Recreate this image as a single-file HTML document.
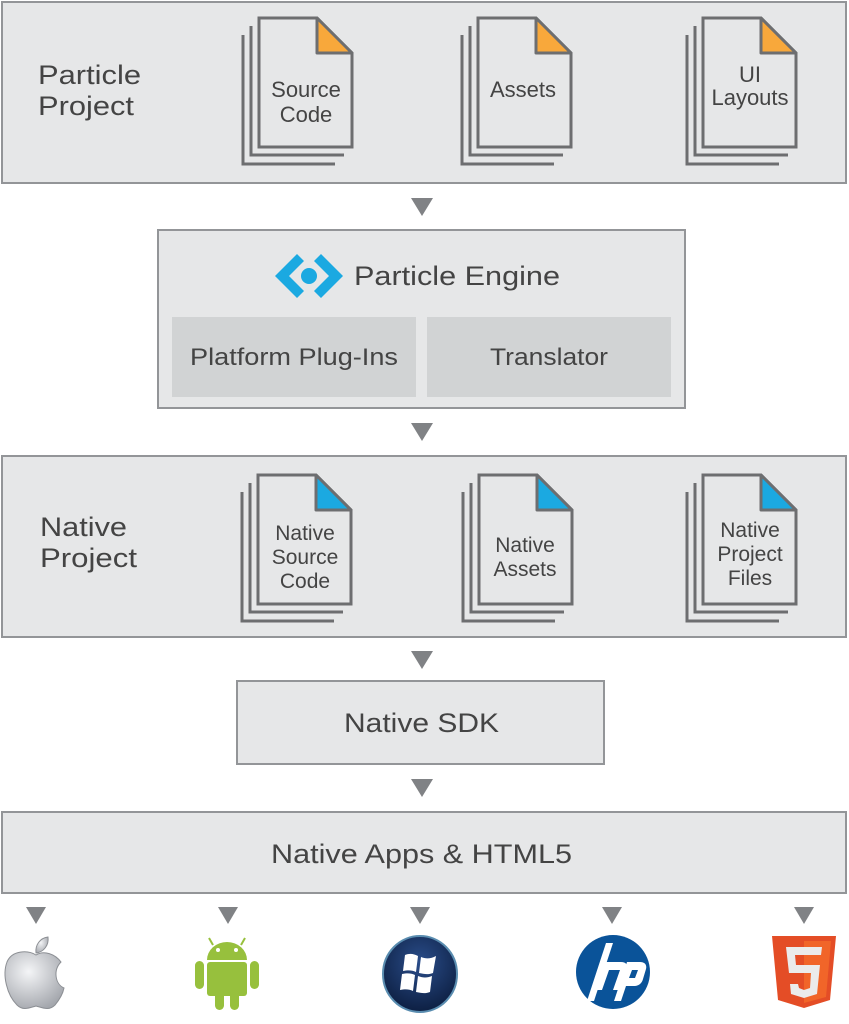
<!DOCTYPE html>
<html><head><meta charset="utf-8"><style>
html,body{margin:0;padding:0;background:#fff;}
svg{display:block;}
text{font-family:"Liberation Sans",sans-serif;fill:#444;}
</style></head><body>
<svg width="849" height="1024" viewBox="0 0 849 1024" xmlns="http://www.w3.org/2000/svg">
<defs>
<g id="docO">
 <polyline points="-16,17 -16,146 76,146" fill="none" stroke="#6d6e70" stroke-width="3"/>
 <polyline points="-8,8 -8,137 85,137" fill="none" stroke="#6d6e70" stroke-width="3"/>
 <path d="M0,0 H58 L93,35 V129 H0 Z" fill="#e6e7e8" stroke="#6d6e70" stroke-width="3"/>
 <path d="M58,0 L93,35 H58 Z" fill="#f8a83b" stroke="#6d6e70" stroke-width="3" stroke-linejoin="round"/>
</g>
<g id="docB">
 <polyline points="-16,17 -16,146 76,146" fill="none" stroke="#6d6e70" stroke-width="3"/>
 <polyline points="-8,8 -8,137 85,137" fill="none" stroke="#6d6e70" stroke-width="3"/>
 <path d="M0,0 H58 L93,35 V129 H0 Z" fill="#e6e7e8" stroke="#6d6e70" stroke-width="3"/>
 <path d="M58,0 L93,35 H58 Z" fill="#1ba9e1" stroke="#6d6e70" stroke-width="3" stroke-linejoin="round"/>
</g>
<polygon id="arr" points="-11,0 11,0 0,18" fill="#808285"/>
<polygon id="sarr" points="-10,0 10,0 0,17" fill="#808285"/>
<radialGradient id="ap" cx="0.4" cy="0.35" r="0.7"><stop offset="0" stop-color="#f4f5f7"/><stop offset="1" stop-color="#a4a7ad"/></radialGradient>
<radialGradient id="wn" cx="0.5" cy="0.35" r="0.7"><stop offset="0" stop-color="#2a4d8a"/><stop offset="1" stop-color="#0b1c3d"/></radialGradient>
</defs>

<!-- Particle Project -->
<rect x="2" y="2" width="844" height="181" fill="#e6e7e8" stroke="#939598" stroke-width="2"/>
<text x="38" y="84" font-size="27" textLength="103" lengthAdjust="spacingAndGlyphs">Particle</text>
<text x="38" y="115" font-size="27" textLength="96" lengthAdjust="spacingAndGlyphs">Project</text>
<use href="#docO" x="259" y="18"/>
<text x="306" y="97" font-size="22" text-anchor="middle">Source</text>
<text x="306" y="122" font-size="22" text-anchor="middle">Code</text>
<use href="#docO" x="478" y="18"/>
<text x="523" y="97" font-size="22" text-anchor="middle">Assets</text>
<use href="#docO" x="703" y="18"/>
<text x="750" y="82" font-size="22" text-anchor="middle">UI</text>
<text x="750" y="105" font-size="22" text-anchor="middle">Layouts</text>

<use href="#arr" x="422" y="198"/>

<!-- Engine -->
<rect x="158" y="230" width="527" height="178" fill="#e6e7e8" stroke="#939598" stroke-width="2"/>
<g fill="#1ba9e1">
 <polygon points="297,254 304,261 289,276 304,291 297,298 275,276"/>
 <polygon points="321,254 314,261 329,276 314,291 321,298 343,276"/>
 <circle cx="309" cy="276" r="8"/>
</g>
<text x="354" y="285" font-size="27" textLength="206" lengthAdjust="spacingAndGlyphs">Particle Engine</text>
<rect x="172" y="317" width="244" height="80" fill="#d1d3d4"/>
<rect x="427" y="317" width="244" height="80" fill="#d1d3d4"/>
<text x="190" y="365" font-size="24" textLength="208" lengthAdjust="spacingAndGlyphs">Platform Plug-Ins</text>
<text x="490" y="365" font-size="24" textLength="118" lengthAdjust="spacingAndGlyphs">Translator</text>

<use href="#arr" x="422" y="423"/>

<!-- Native Project -->
<rect x="2" y="456" width="844" height="181" fill="#e6e7e8" stroke="#939598" stroke-width="2"/>
<text x="40" y="536" font-size="27" textLength="87" lengthAdjust="spacingAndGlyphs">Native</text>
<text x="40" y="567" font-size="27" textLength="97" lengthAdjust="spacingAndGlyphs">Project</text>
<use href="#docB" x="258" y="475"/>
<text x="305" y="540" font-size="21" text-anchor="middle">Native</text>
<text x="305" y="564" font-size="21" text-anchor="middle">Source</text>
<text x="305" y="588" font-size="21" text-anchor="middle">Code</text>
<use href="#docB" x="479" y="475"/>
<text x="525" y="552" font-size="21" text-anchor="middle">Native</text>
<text x="525" y="576" font-size="21" text-anchor="middle">Assets</text>
<use href="#docB" x="703" y="475"/>
<text x="750" y="537" font-size="21" text-anchor="middle">Native</text>
<text x="750" y="561" font-size="21" text-anchor="middle">Project</text>
<text x="750" y="585" font-size="21" text-anchor="middle">Files</text>

<use href="#arr" x="422" y="651"/>

<rect x="237" y="681" width="367" height="83" fill="#e6e7e8" stroke="#939598" stroke-width="2"/>
<text x="344" y="732" font-size="27" textLength="155" lengthAdjust="spacingAndGlyphs">Native SDK</text>

<use href="#arr" x="422" y="779"/>

<rect x="2" y="812" width="844" height="81" fill="#e6e7e8" stroke="#939598" stroke-width="2"/>
<text x="271" y="863" font-size="27" textLength="301" lengthAdjust="spacingAndGlyphs">Native Apps &amp; HTML5</text>

<use href="#sarr" x="36" y="907"/>
<use href="#sarr" x="228" y="907"/>
<use href="#sarr" x="420" y="907"/>
<use href="#sarr" x="612" y="907"/>
<use href="#sarr" x="804" y="907"/>

<!-- Apple -->
<path d="M36,955 C28,950 12,950 7,962 C2,975 7,995 17,1005 C23,1011 29,1008 36,1006 C43,1008 49,1011 55,1005 C60,999 63,993 64,988 C55,984 53,970 61,962 C55,954 44,950 36,955 Z" fill="url(#ap)" stroke="#8c8f94" stroke-width="1"/>
<path d="M36,953 C35,945 40,938 48,937 C49,945 44,952 36,953 Z" fill="url(#ap)" stroke="#8c8f94" stroke-width="1"/>

<!-- Android -->
<g fill="#97c03d">
 <path d="M207,960 A20,18 0 0 1 247,960 Z"/>
 <line x1="213" y1="945" x2="209" y2="938" stroke="#97c03d" stroke-width="2"/>
 <line x1="241" y1="945" x2="245" y2="938" stroke="#97c03d" stroke-width="2"/>
 <rect x="207" y="962" width="40" height="34" rx="3"/>
 <rect x="195" y="961" width="9" height="28" rx="4.5"/>
 <rect x="250" y="961" width="9" height="28" rx="4.5"/>
 <rect x="215" y="990" width="9" height="20" rx="4.5"/>
 <rect x="230" y="990" width="9" height="20" rx="4.5"/>
</g>
<circle cx="218" cy="950" r="2" fill="#fff"/><circle cx="236" cy="950" r="2" fill="#fff"/>

<!-- Windows -->
<ellipse cx="420" cy="974" rx="37" ry="38" fill="url(#wn)" stroke="#5a8db0" stroke-width="2"/>
<g fill="#fff">
 <path d="M405,955 C410,953 414,954 418,956 L416,972 C412,970 408,970 403,971 Z"/>
 <path d="M421,957 C426,959 430,959 436,956 L433,973 C428,975 424,974 419,973 Z"/>
 <path d="M402,974 C407,973 411,973 415,975 L413,991 C409,989 405,989 400,990 Z"/>
 <path d="M418,976 C423,978 427,978 432,976 L430,992 C425,994 421,993 416,992 Z"/>
</g>

<!-- HP -->
<circle cx="613" cy="972" r="37" fill="#0a5399"/>
<g fill="#fff">
 <polygon points="606,943 613,943 594,1001 587,1001"/>
 <path d="M605,962 L621,962 C626,962 628,965 627,969 L620,990 L613,990 L620,970 L609,970 L602,990 L595,990 Z"/>
 <path d="M627,962 L640,962 C645,962 647,965 646,969 L643,979 C642,983 639,986 634,986 L626,986 L621,1001 L614,1001 Z M632,970 L629,978 L635,978 L638,970 Z"/>
</g>

<!-- HTML5 -->
<polygon points="772,936 836,936 830,1000 804,1008 778,1000" fill="#e44d26"/>
<polygon points="804,941 831,941 826,997 804,1003" fill="#f16529"/>
<path d="M786,947 H822 L821,955 H795 L796,965 H820 L817,994 L804,998 L791,994 L790,984 H798 L799,988 L804,990 L810,988 L811,973 H789 Z" fill="#ebebeb"/>
</svg>
</body></html>
